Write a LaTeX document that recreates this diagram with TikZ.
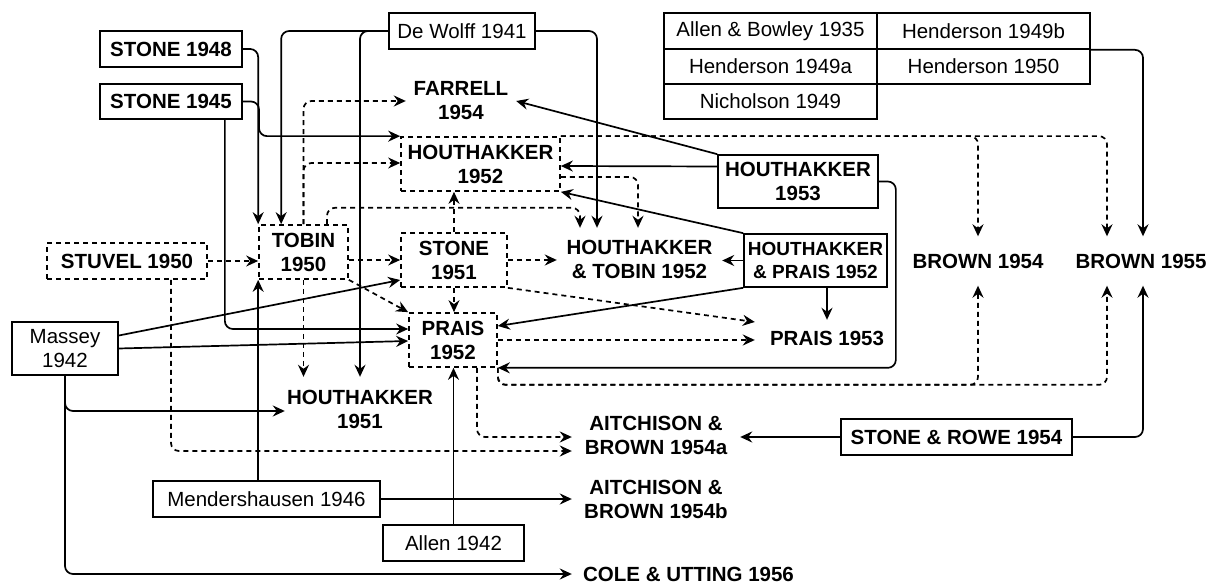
\documentclass[tikz,border=0pt]{standalone}
\usepackage{fontspec}
\setmainfont{Liberation Sans}
\usetikzlibrary{arrows.meta,calc}
\tikzset{
  base/.style={inner sep=0pt, align=center, font=\fontsize{20.5}{24}\selectfont},
  bx/.style={base, draw, line width=1.7pt},
  bbx/.style={bx, font=\fontsize{20.5}{24}\selectfont\bfseries},
  dsh/.style={dash pattern=on 5pt off 4pt},
  dbx/.style={bbx, dsh},
  lbl/.style={base, font=\fontsize{20.5}{24}\selectfont\bfseries},
  arr/.style={-{Stealth[length=12pt,width=11pt,inset=4pt]}, line width=1.7pt, rounded corners=8pt},
  darr/.style={arr, dsh},
}
\begin{document}
\begin{tikzpicture}[x=1pt,y=-1pt]
\useasboundingbox (0,0) rectangle (1211,585);

% nodes
\node[bbx, minimum width=142, minimum height=36] (s48) at (171,49) {STONE 1948};
\node[bbx, minimum width=142, minimum height=35] (s45) at (171,101.5) {STONE 1945};
\node[bx, minimum width=146, minimum height=36] (dw) at (462,31) {De Wolff 1941};

\node[bx, minimum width=213, minimum height=36] (ab35) at (770.5,31) {Allen \& Bowley 1935};
\node[bx, minimum width=213, minimum height=35] (h49a) at (770.5,66.5) {Henderson 1949a};
\node[bx, minimum width=213, minimum height=35] (nic) at (770.5,101.5) {Nicholson 1949};
\node[bx, minimum width=213, minimum height=36] (h49b) at (983.5,31) {Henderson 1949b};
\node[bx, minimum width=213, minimum height=35] (h50) at (983.5,66.5) {Henderson 1950};

\node[lbl, minimum width=110, minimum height=50] (far) at (461,101) {FARRELL\\1954};
\node[dbx, minimum width=159, minimum height=54] (h52) at (480.5,164) {HOUTHAKKER\\1952};
\node[bbx, minimum width=160, minimum height=53] (h53) at (798,181.5) {HOUTHAKKER\\1953};
\node[dbx, minimum width=160, minimum height=36] (stu) at (127,261) {STUVEL 1950};
\node[dbx, minimum width=89, minimum height=54] (tob) at (303.5,252) {TOBIN\\1950};
\node[dbx, minimum width=106, minimum height=54] (s51) at (454,260) {STONE\\1951};
\node[lbl, minimum width=165, minimum height=62] (ht52) at (639.5,259) {HOUTHAKKER\\\&~TOBIN 1952};
\node[bx, minimum width=143, minimum height=53, font=\fontsize{19}{23}\selectfont\bfseries] (hp52) at (815.5,260.5) {HOUTHAKKER\\\&~PRAIS 1952};
\node[lbl, minimum width=134, minimum height=49] (b54) at (978,261) {BROWN 1954};
\node[lbl, minimum width=134, minimum height=49] (b55) at (1141,261) {BROWN 1955};
\node[bx, minimum width=106, minimum height=53] (mas) at (65,348.5) {Massey\\1942};
\node[dbx, minimum width=88, minimum height=54] (p52) at (453,340) {PRAIS\\1952};
\node[lbl, minimum width=144, minimum height=36] (p53) at (827,338) {PRAIS 1953};
\node[lbl, minimum width=150, minimum height=65] (h51) at (360,409.5) {HOUTHAKKER\\1951};
\node[lbl, minimum width=168, minimum height=48] (ab54a) at (656,435) {AITCHISON \&\\BROWN 1954a};
\node[bbx, minimum width=231, minimum height=36] (sr54) at (956.5,437) {STONE \& ROWE 1954};
\node[lbl, minimum width=168, minimum height=48] (ab54b) at (656,499) {AITCHISON \&\\BROWN 1954b};
\node[bx, minimum width=227, minimum height=36] (men) at (266.5,499) {Mendershausen 1946};
\node[bx, minimum width=141, minimum height=36] (al42) at (453.5,543) {Allen 1942};
\node[lbl, minimum width=233, minimum height=24] (cu56) at (688.5,574) {COLE \& UTTING 1956};

% solid connectors
\draw[arr] (s48.east) -| (tob.north west);
\draw[arr] (s45.east) -- (259,101.5) |- (h52.north west);
\draw[arr] ($(s45.south east)+(-18,0)$) |- ($(p52.west)+(0,-11)$);
\draw[arr] (dw.west) -| ($(tob.north west)+(23,0)$);
\draw[arr] (dw.west) -| (h51.north);
\draw[arr] (dw.east) -| ($(ht52.north)+(-42.5,0)$);
\draw[arr] (men.north -| tob.south west) -- (tob.south west);
\draw[arr] (men.east) -- (men.east -| ab54b.west);
\draw[arr] (sr54.west) -- (sr54.west -| ab54a.east);
\draw[arr] (sr54.east) -| ($(b55.south)+(2,0)$);
\draw[arr] (h49b.south east) -| ($(b55.north)+(2,0)$);
\draw[arr] (h53.north west) -- (far.east);
\draw[arr] ($(h53.west)+(0,-15)$) -- ($(h52.east)+(0,2)$);
\draw[arr] (h53.east) -- ++(17,0) |- (p52.south east);
\draw[arr] (hp52.north west) -- (h52.south east);
\draw[arr] (hp52.west) -- (hp52.west -| ht52.east);
\draw[arr] (hp52.south west) -- ($(p52.east)+(0,-14)$);
\draw[arr] (hp52.south -| p53.north) -- (p53.north);
\draw[arr] ($(mas.east)+(0,-13)$) -- ($(s51.west)+(0,20)$);
\draw[arr] (mas.east) -- ($(p52.west)+(0,1)$);
\draw[arr] (mas.south) |- ($(h51.west)+(0,1.5)$);
\draw[arr] (mas.south) |- (cu56.west);
\draw[arr] (al42.north) -- (al42.north |- p52.south);

% dashed connectors
\draw[darr] (tob.north) |- (far.west);
\draw[darr] (tob.north) |- ($(h52.west)+(0,-1)$);
\draw[darr] ($(tob.north)+(23.5,0)$) |- ($(ht52.north)+(-59.5,-20)$) -- ($(ht52.north)+(-59.5,0)$);
\draw[darr] ($(tob.east)+(0,8)$) -- (s51.west);
\draw[darr] (stu.east) -- (stu.east -| tob.west);
\draw[darr] (tob.south east) -- (p52.north west);
\draw[darr] (tob.south) -- (tob.south |- h51.north);
\draw[darr] ($(stu.south)+(44,0)$) |- ($(ab54a.west)+(0,16)$);
\draw[darr] ($(p52.south)+(24,0)$) |- ($(ab54a.west)+(0,2)$);
\draw[darr] (h52.north east) -| (b54.north);
\draw[darr] (h52.north east) -| ($(b55.north)+(-34,0)$);
\draw[darr] (p52.south east) -- ++(0,17) -| (b54.south);
\draw[darr] (p52.south east) -- ++(0,17) -| ($(b55.south)+(-34,0)$);
\draw[darr] (s51.east) -- (s51.east -| ht52.west);
\draw[darr] (s51.north) -- (s51.north |- h52.south);
\draw[darr] (s51.south) -- (s51.south |- p52.north);
\draw[darr] (s51.south east) -- ($(p53.west)+(0,-16)$);
\draw[darr] (p52.east) -- (p52.east -| p53.west);
\draw[darr] ($(h52.east)+(0,13)$) -| ($(ht52.north)+(-1.5,0)$);
\end{tikzpicture}
\end{document}
